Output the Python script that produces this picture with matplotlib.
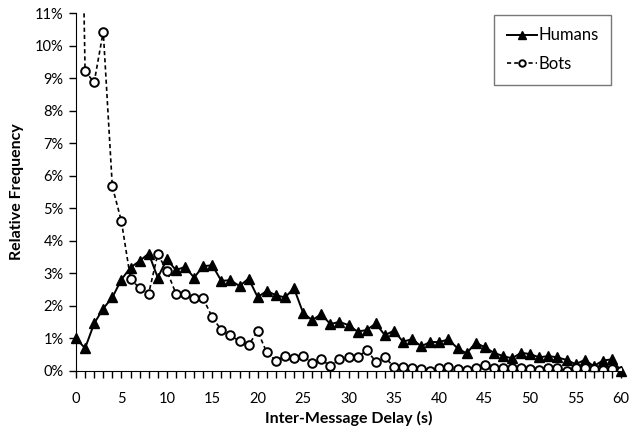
import matplotlib.pyplot as plt
from matplotlib.ticker import MultipleLocator, FuncFormatter

delay = list(range(0, 61))

# relative frequency (%) per 1-second bin
humans = [1.00, 0.70, 1.46, 1.92, 2.26, 2.81, 3.18, 3.38, 3.61, 2.87,
          3.43, 3.10, 3.20, 2.87, 3.22, 3.25, 2.77, 2.79, 2.61, 2.84,
          2.27, 2.46, 2.33, 2.26, 2.54, 1.79, 1.56, 1.75, 1.44, 1.51,
          1.41, 1.21, 1.26, 1.46, 1.10, 1.24, 0.90, 0.98, 0.76, 0.89,
          0.89, 0.97, 0.70, 0.54, 0.87, 0.73, 0.56, 0.46, 0.39, 0.56,
          0.52, 0.42, 0.46, 0.42, 0.34, 0.21, 0.34, 0.15, 0.32, 0.36,
          0.00]
bots = [25.0, 9.21, 8.87, 10.43, 5.67, 4.60, 2.84, 2.54, 2.38, 3.59,
        3.08, 2.38, 2.36, 2.23, 2.23, 1.65, 1.26, 1.10, 0.91, 0.80,
        1.22, 0.57, 0.32, 0.46, 0.39, 0.46, 0.25, 0.36, 0.15, 0.36,
        0.42, 0.42, 0.64, 0.29, 0.42, 0.13, 0.13, 0.08, 0.07, 0.00,
        0.10, 0.11, 0.06, 0.02, 0.08, 0.18, 0.08, 0.08, 0.08, 0.08,
        0.06, 0.02, 0.08, 0.08, 0.00, 0.08, 0.08, 0.05, 0.04, 0.06,
        0.00]

plt.rcParams['font.family'] = ['Lato', 'DejaVu Sans']

fig = plt.figure(figsize=(6.29, 4.30), dpi=100)
ax = fig.add_axes([76 / 629, 1 - 371 / 430, 545 / 629, 358 / 430])

ax.plot(delay, humans, color='black', linewidth=1.4, marker='^',
        markersize=7, markerfacecolor='black', label='Humans', clip_on=False)
ax.plot(delay, bots, color='black', linewidth=1.2, linestyle=(0, (2.5, 1.8)),
        marker='o', markersize=6.2, markerfacecolor='white',
        markeredgewidth=1.4, label='Bots')

ax.set_xlim(0, 60)
ax.set_ylim(0, 11)
ax.xaxis.set_major_locator(MultipleLocator(5))
ax.xaxis.set_minor_locator(MultipleLocator(1))
ax.yaxis.set_major_locator(MultipleLocator(1))
ax.yaxis.set_major_formatter(FuncFormatter(lambda v, p: f"{v:.0f}%"))

for side in ('top', 'right'):
    ax.spines[side].set_visible(False)
ax.tick_params(axis='both', which='both', direction='out', labelsize=10.5,
               color='black', width=1)
ax.tick_params(axis='x', which='major', length=5, pad=10)
ax.tick_params(axis='x', which='minor', length=5)
ax.tick_params(axis='y', length=5, pad=4)

ax.set_xlabel('Inter-Message Delay (s)', fontsize=11.5, fontweight='bold',
              labelpad=4)
ax.set_ylabel('Relative Frequency', fontsize=11.5, fontweight='bold',
              labelpad=8)

leg = ax.legend(loc='upper right', bbox_to_anchor=(611 / 629, 1 - 15 / 430),
                bbox_transform=fig.transFigure, borderaxespad=0,
                fontsize=12, frameon=True, fancybox=False,
                edgecolor='#555555', handlelength=1.8, borderpad=0.75,
                labelspacing=0.75, handletextpad=0.1, markerscale=0.75)
leg.get_frame().set_linewidth(1.0)

fig.savefig('out.png', dpi=100)
